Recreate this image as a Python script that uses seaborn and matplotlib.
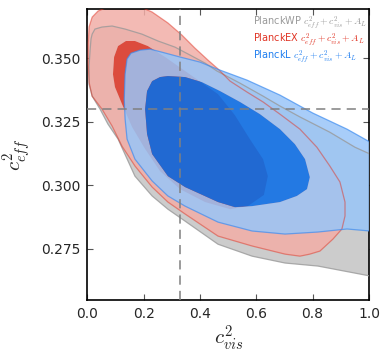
import matplotlib
matplotlib.use("Agg")
import matplotlib.pyplot as plt
import numpy as np
import seaborn as sns
from matplotlib.path import Path
from matplotlib.patches import PathPatch

# contour outlines (c_vis^2, c_eff^2)
wp_95_x = [0.017, 0.027, 0.052, 0.088, 0.134, 0.194, 0.251, 0.311, 0.364, 0.418, 0.460, 0.542,
           0.624, 0.684, 0.755, 0.861, 0.950, 1.004, 1.039, 1.039, 1.004, 0.819, 0.702, 0.585,
           0.464, 0.347, 0.286, 0.230, 0.169, 0.109, 0.073, 0.045, 0.017, 0.006, 0.006, 0.010, 0.013]
wp_95_y = [0.3595, 0.3615, 0.3623, 0.3627, 0.3615, 0.3595, 0.3568, 0.3544, 0.3513, 0.3481, 0.3450, 0.3402,
           0.3351, 0.3312, 0.3269, 0.3209, 0.3150, 0.3123, 0.3111, 0.2635, 0.2643, 0.2682, 0.2694, 0.2721,
           0.2768, 0.2859, 0.2906, 0.2958, 0.3036, 0.3182, 0.3241, 0.3300, 0.3351, 0.3398, 0.3469, 0.3536, 0.3576]

ex_95_x = [0.003, 0.006, 0.017, 0.038, 0.073, 0.109, 0.180, 0.230, 0.286, 0.336, 0.382, 0.428, 0.464,
           0.507, 0.567, 0.624, 0.684, 0.755, 0.815, 0.861, 0.897, 0.915, 0.915, 0.904, 0.872, 0.826,
           0.790, 0.755, 0.702, 0.585, 0.464, 0.347, 0.286, 0.230, 0.169, 0.123, 0.088, 0.052, 0.017,
           0.006, 0.003]
ex_95_y = [0.3556, 0.3623, 0.3662, 0.3686, 0.3702, 0.3709, 0.3706, 0.3682, 0.3639, 0.3591, 0.3540, 0.3493, 0.3458,
           0.3410, 0.3367, 0.3328, 0.3280, 0.3221, 0.3150, 0.3076, 0.3013, 0.2934, 0.2879, 0.2828, 0.2788, 0.2741,
           0.2729, 0.2721, 0.2729, 0.2761, 0.2800, 0.2887, 0.2934, 0.2993, 0.3076, 0.3154, 0.3233, 0.3300, 0.3351,
           0.3406, 0.3477]
ex_68_x = [0.091, 0.095, 0.109, 0.137, 0.169, 0.215, 0.276, 0.347, 0.464, 0.524, 0.577, 0.624, 0.641,
           0.627, 0.570, 0.507, 0.418, 0.329, 0.258, 0.205, 0.159, 0.123, 0.098]
ex_68_y = [0.3437, 0.3505, 0.3548, 0.3568, 0.3568, 0.3548, 0.3505, 0.3450, 0.3359, 0.3276, 0.3182, 0.3103, 0.3036,
           0.2962, 0.2918, 0.2906, 0.2934, 0.2985, 0.3056, 0.3143, 0.3229, 0.3320, 0.3387]

l_95_x = [0.134, 0.141, 0.155, 0.187, 0.223, 0.265, 0.329, 0.400, 0.460, 0.567, 0.684, 0.801, 0.922,
          1.004, 1.039, 1.039, 1.004, 0.922, 0.819, 0.702, 0.585, 0.464, 0.347, 0.286, 0.230, 0.169,
          0.141, 0.134, 0.131]
l_95_y = [0.3438, 0.3497, 0.3520, 0.3532, 0.3536, 0.3524, 0.3505, 0.3485, 0.3458, 0.3414, 0.3355, 0.3284, 0.3221,
          0.3170, 0.3154, 0.2820, 0.2820, 0.2828, 0.2816, 0.2808, 0.2820, 0.2855, 0.2918, 0.2958, 0.3017, 0.3103,
          0.3182, 0.3261, 0.3339]
l_68_x = [0.205, 0.212, 0.230, 0.258, 0.286, 0.347, 0.407, 0.471, 0.542, 0.613, 0.684, 0.737, 0.773,
          0.790, 0.780, 0.744, 0.684, 0.585, 0.524, 0.464, 0.347, 0.286, 0.230, 0.212]
l_68_y = [0.3300, 0.3371, 0.3410, 0.3426, 0.3430, 0.3426, 0.3406, 0.3371, 0.3328, 0.3280, 0.3221, 0.3162, 0.3103,
          0.3032, 0.2985, 0.2958, 0.2934, 0.2918, 0.2914, 0.2934, 0.2993, 0.3036, 0.3123, 0.3202]

fiducial = 0.33
labels = [r"PlanckWP $c^2_{eff}+c^2_{vis}+A_L$",
          r"PlanckEX $c^2_{eff}+c^2_{vis}+A_L$",
          r"PlanckL $c^2_{eff}+c^2_{vis}+A_L$"]
label_colors = ["#999999", "#E03424", "#1f7ef0"]


def ring(x, y, clockwise):
    pts = np.column_stack([x, y])
    area = np.sum(pts[:-1, 0] * pts[1:, 1] - pts[1:, 0] * pts[:-1, 1])
    if (area < 0) != clockwise:
        pts = pts[::-1]
    return pts


def band(ax, ox, oy, ix, iy, **kw):
    # 95% band without the 68% hole, like contourf does
    outer = ring(ox, oy, False)
    inner = ring(ix, iy, True)
    verts = np.vstack([outer, outer[:1], inner, inner[:1]])
    codes = ([Path.MOVETO] + [Path.LINETO] * (len(outer) - 1) + [Path.CLOSEPOLY]
             + [Path.MOVETO] + [Path.LINETO] * (len(inner) - 1) + [Path.CLOSEPOLY])
    ax.add_patch(PathPatch(Path(verts, codes), **kw))


sns.set_style("ticks")
plt.rcParams["mathtext.fontset"] = "cm"
plt.rcParams["font.family"] = ["DejaVu Sans"]

fig = plt.figure(figsize=(3.9, 3.56), dpi=100)
ax = fig.add_axes([0.224, 0.157, 0.722, 0.817])

# gray first, then red, then blue on top
ax.fill(wp_95_x, wp_95_y, color="#cccccc", lw=0, zorder=1)
band(ax, ex_95_x, ex_95_y, ex_68_x, ex_68_y, fc="#f2aea7", alpha=0.85, lw=0, zorder=2)
ax.fill(ex_68_x, ex_68_y, color="#E03424", alpha=0.85, lw=0, zorder=2)
band(ax, l_95_x, l_95_y, l_68_x, l_68_y, fc="#99c5f8", alpha=0.85, lw=0, zorder=3)
ax.fill(l_68_x, l_68_y, color="#006FED", alpha=0.85, lw=0, zorder=3)

ax.fill(wp_95_x, wp_95_y, fill=False, ec="#999999", lw=0.9, alpha=0.8, zorder=4)
ax.fill(ex_95_x, ex_95_y, fill=False, ec="#E03424", lw=0.9, alpha=0.5, zorder=4)
ax.fill(l_95_x, l_95_y, fill=False, ec="#3d8cf0", lw=0.9, alpha=0.7, zorder=4)

ax.axvline(fiducial, color="#808080", ls=(0, (6, 4)), lw=1.1, zorder=5)
ax.axhline(fiducial, color="#808080", ls=(0, (6, 4)), lw=1.1, zorder=5)

for i, (lab, col) in enumerate(zip(labels, label_colors)):
    ax.text(0.588, 0.953 - i * 0.058, lab, color=col, fontsize=7,
            transform=ax.transAxes, va="center", ha="left", zorder=6)

ax.set_xlim(0.0, 1.0)
ax.set_ylim(0.2548, 0.3693)
ax.set_xticks([0.0, 0.2, 0.4, 0.6, 0.8, 1.0])
ax.set_yticks([0.275, 0.300, 0.325, 0.350])
ax.set_yticklabels(["0.275", "0.300", "0.325", "0.350"])
ax.tick_params(direction="in", length=4, width=0.8, top=True, right=True,
               labelsize=10, color="#555555", pad=5)
for s in ax.spines.values():
    s.set_linewidth(1.2)
    s.set_color("black")

ax.set_xlabel(r"$c^2_{vis}$", fontsize=15, labelpad=2)
ax.set_ylabel(r"$c^2_{eff}$", fontsize=15, labelpad=6)

fig.savefig("out.png", dpi=100)
